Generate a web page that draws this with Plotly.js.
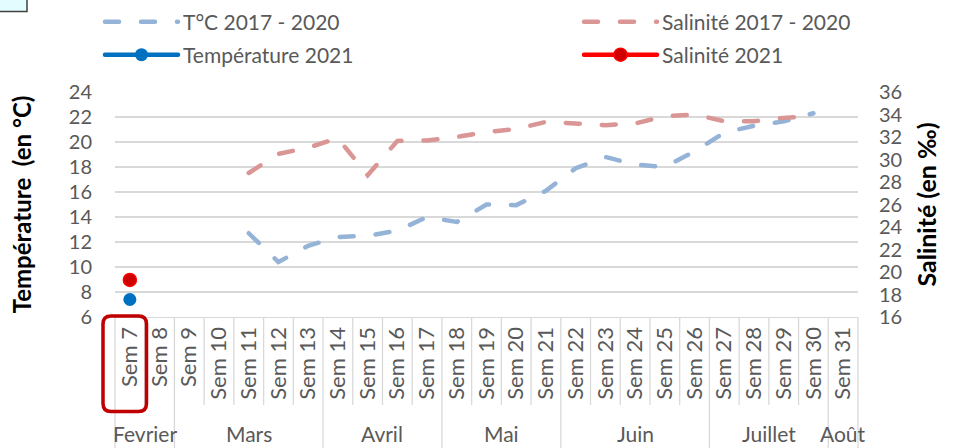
<!DOCTYPE html>
<html><head><meta charset="utf-8">
<script src="https://cdn.plot.ly/plotly-3.0.1.min.js"></script>
<style>
html,body{margin:0;padding:0;background:#fff;}
#chart{width:956px;height:448px;}
.scatterlayer .js-line, .legendlines path {stroke-linecap: round;}
</style></head><body><div id="chart"></div>
<script>
const weeks = ['Sem 7','Sem 8','Sem 9','Sem 10','Sem 11','Sem 12','Sem 13','Sem 14','Sem 15','Sem 16','Sem 17','Sem 18','Sem 19','Sem 20','Sem 21','Sem 22','Sem 23','Sem 24','Sem 25','Sem 26','Sem 27','Sem 28','Sem 29','Sem 30','Sem 31'];
const tempHist = [null,null,null,null,12.7,10.4,11.7,12.4,12.5,12.9,14.0,13.6,15.0,14.95,16.1,17.9,18.8,18.2,18.0,19.25,20.75,21.3,21.65,22.3,null];
const salHist  = [null,null,null,null,28.8,30.5,31.05,31.9,28.6,31.65,31.7,32.0,32.45,32.7,33.35,33.2,33.05,33.2,33.85,34.0,33.4,33.4,33.7,33.85,null];
const temp2021 = [7.4,null,null,null,null,null,null,null,null,null,null,null,null,null,null,null,null,null,null,null,null,null,null,null,null];
const sal2021  = [19.3,null,null,null,null,null,null,null,null,null,null,null,null,null,null,null,null,null,null,null,null,null,null,null,null];
const months = ['Fevrier','Mars','Avril','Mai','Juin','Juillet','Août'];
const monthWeekCounts = [2,5,4,4,5,4,1];
const tempTicks = [6,8,10,12,14,16,18,20,22,24];
const salTicks = [16,18,20,22,24,26,28,30,32,34,36];

const FONT = 'Lato, "Open Sans", sans-serif';
const W = 956, H = 448;
const M = {l:115, r:98, t:92, b:131, autoexpand: false};
const PW = W - M.l - M.r, PH = H - M.t - M.b;
const px = x => (x - M.l) / PW;
const py = y => (H - M.b - y) / PH;

const DASH = '14px,22px';
const traces = [
  {x: weeks, y: tempHist, name: 'T°C 2017 - 2020', mode: 'lines', yaxis: 'y', legend: 'legend',
   line: {color: '#95B3D7', width: 4.5, dash: DASH}, connectgaps: false},
  {x: weeks, y: temp2021, name: 'Température 2021', mode: 'lines+markers', yaxis: 'y', legend: 'legend3',
   line: {color: '#0070C0', width: 4.5}, marker: {color: '#0070C0', size: 13}},
  {x: weeks, y: salHist, name: 'Salinité 2017 - 2020', mode: 'lines', yaxis: 'y2', legend: 'legend2',
   line: {color: '#DA9694', width: 4.5, dash: DASH}, connectgaps: false},
  {x: weeks, y: sal2021, name: 'Salinité 2021', mode: 'lines+markers', yaxis: 'y2', legend: 'legend4',
   line: {color: '#FF0000', width: 4.5}, marker: {color: '#D00000', size: 13, line: {color: '#FF0000', width: 1.5}}}
];

const shapes = [];
let cum = 0; const monthBounds = new Set();
monthWeekCounts.forEach(c => { cum += c; monthBounds.add(cum); });
for (let k = 1; k < weeks.length; k++) {
  const isMonth = monthBounds.has(k);
  shapes.push({type: 'line', xref: 'x', yref: 'paper', x0: k - 0.5, x1: k - 0.5, y0: 0, y1: isMonth ? py(H) : py(405),
    line: {color: '#D9D9D9', width: 1.3}, layer: 'below'});
}
shapes.push({type: 'line', xref: 'paper', yref: 'paper', x0: 0, x1: 0, y0: 0, y1: py(H), line: {color: '#D9D9D9', width: 1.3}});
shapes.push({type: 'line', xref: 'paper', yref: 'paper', x0: 1, x1: 1, y0: 0, y1: py(H), line: {color: '#D9D9D9', width: 1.3}});
(function(){
  const x0 = 103, x1 = 146.5, y0 = 316, y1 = 411.5, r = 8;
  const rx = r / PW, ry = r / PH;
  const X0 = px(x0), X1 = px(x1), Y0 = py(y1), Y1 = py(y0);
  const p = `M ${X0+rx},${Y1} L ${X1-rx},${Y1} Q ${X1},${Y1} ${X1},${Y1-ry} L ${X1},${Y0+ry} Q ${X1},${Y0} ${X1-rx},${Y0} L ${X0+rx},${Y0} Q ${X0},${Y0} ${X0},${Y0+ry} L ${X0},${Y1-ry} Q ${X0},${Y1} ${X0+rx},${Y1} Z`;
  shapes.push({type: 'path', xref: 'paper', yref: 'paper', path: p, line: {color: '#C00000', width: 3.5}, fillcolor: 'rgba(0,0,0,0)'});
})();
shapes.push({type: 'rect', xref: 'paper', yref: 'paper', x0: px(-5), x1: px(27), y0: py(11.5), y1: py(-5),
  line: {color: '#404040', width: 1.5}, fillcolor: '#E3FCFF'});

const annotations = [];
let start = 0;
months.forEach((m, i) => {
  const n = monthWeekCounts[i];
  annotations.push({x: start + (n - 1) / 2, y: py(433), xref: 'x', yref: 'paper', text: m, showarrow: false,
    xanchor: 'center', yanchor: 'middle', font: {family: FONT, size: 21, color: '#595959'}});
  start += n;
});

const legendFont = {family: FONT, size: 21, color: '#595959'};
const mkLegend = (xPix, yPix) => ({x: px(xPix), y: py(yPix), xanchor: 'left', yanchor: 'middle', orientation: 'v',
  bgcolor: 'rgba(0,0,0,0)', font: legendFont, itemwidth: 73, tracegroupgap: 0});
const layout = {
  width: W, height: H,
  margin: M,
  paper_bgcolor: '#fff', plot_bgcolor: '#fff',
  font: {family: FONT, color: '#595959'},
  showlegend: true,
  xaxis: {type: 'category', tickangle: -90, tickfont: {family: FONT, size: 22, color: '#595959'},
    showgrid: false, showline: true, linecolor: '#D9D9D9', linewidth: 1.3, ticks: '', ticklabelstandoff: 0,
    range: [-0.5, weeks.length - 0.5], automargin: false, fixedrange: true},
  yaxis: {range: [6, 24], tickvals: tempTicks, showgrid: true, gridcolor: '#D9D9D9', gridwidth: 1.3,
    zeroline: false, showline: false, ticks: '', ticklabelstandoff: 22,
    tickfont: {family: FONT, size: 20, color: '#595959'}, automargin: false,
    title: {text: 'Température  (en °C)', font: {family: FONT, size: 24, color: '#000', weight: 'bold'}, standoff: 30}},
  yaxis2: {range: [16, 36], tickvals: salTicks, overlaying: 'y', side: 'right', showgrid: false, zeroline: false,
    showline: false, ticks: '', ticklabelstandoff: 20, tickfont: {family: FONT, size: 20, color: '#595959'}, automargin: false,
    title: {text: 'Salinité (en ‰)', font: {family: FONT, size: 25, color: '#000', weight: 'bold'}, standoff: 16}},
  legend: mkLegend(100, 22),
  legend2: mkLegend(579, 22),
  legend3: mkLegend(100, 55),
  legend4: mkLegend(579, 55),
  shapes: shapes,
  annotations: annotations
};

Plotly.newPlot('chart', traces, layout, {displayModeBar: false, staticPlot: true});
</script></body></html>
